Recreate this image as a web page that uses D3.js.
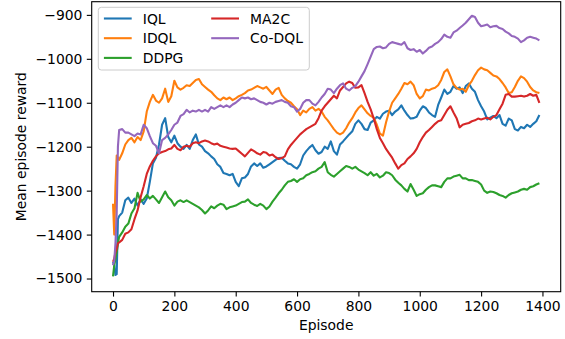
<!DOCTYPE html>
<html>
<head>
<meta charset="utf-8">
<script src="https://cdn.jsdelivr.net/npm/d3@7.9.0/dist/d3.min.js"></script>
<style>
  body { margin: 0; background: #fff; }
  svg { display: block; font-family: "DejaVu Sans", sans-serif; }
</style>
</head>
<body>
<svg id="chart" width="565" height="339"></svg>
<script>
// episode index of each sample (first few episodes read more finely)
const episodes = [0, 4, 8, 12, 16, 20].concat(d3.range(30, 1400, 10));

const iql = [-1462, -1470, -1492, -1490, -1365, -1358, -1350, -1322, -1316, -1328, -1318, -1334, -1320, -1330, -1318, -1280, -1238, -1225, -1195, -1150,
  -1135, -1178, -1190, -1175, -1192, -1200, -1205, -1196, -1205, -1185, -1172, -1195, -1200, -1210, -1215, -1222, -1228, -1240, -1246, -1260,
  -1262, -1265, -1262, -1280, -1290, -1272, -1270, -1262, -1245, -1238, -1244, -1238, -1248, -1245, -1240, -1235, -1230, -1226, -1225, -1232,
  -1238, -1240, -1246, -1250, -1240, -1220, -1210, -1202, -1196, -1208, -1216, -1212, -1200, -1205, -1188, -1210, -1218, -1195, -1188, -1180,
  -1172, -1165, -1148, -1140, -1148, -1160, -1162, -1145, -1140, -1132, -1136, -1125, -1120, -1118, -1128, -1120, -1115, -1106, -1118, -1128,
  -1136, -1135, -1132, -1118, -1108, -1112, -1122, -1128, -1132, -1105, -1088, -1070, -1080, -1075, -1062, -1068, -1065, -1078, -1062, -1056,
  -1068, -1075, -1094, -1108, -1120, -1138, -1134, -1130, -1135, -1128, -1148, -1152, -1136, -1140, -1160, -1163, -1155, -1158, -1150, -1155,
  -1148, -1142, -1128];

const idql = [-1330, -1400, -1290, -1220, -1225, -1230, -1215, -1195, -1185, -1180, -1190, -1178, -1185, -1165, -1120, -1098, -1082, -1095, -1100, -1090,
  -1068, -1098, -1085, -1050, -1065, -1070, -1066, -1060, -1062, -1055, -1048, -1046, -1058, -1064, -1070, -1075, -1083, -1090, -1094, -1088,
  -1092, -1088, -1094, -1090, -1085, -1082, -1078, -1072, -1070, -1066, -1062, -1065, -1068, -1064, -1072, -1080, -1070, -1066, -1082, -1090,
  -1096, -1100, -1108, -1115, -1128, -1118, -1122, -1114, -1110, -1118, -1114, -1120, -1132, -1140, -1150, -1160, -1168, -1172, -1168, -1158,
  -1145, -1135, -1122, -1112, -1106, -1115, -1124, -1130, -1134, -1150, -1170, -1175, -1145, -1120, -1100, -1090, -1080, -1068, -1055, -1058,
  -1052, -1060, -1080, -1090, -1085, -1070, -1072, -1068, -1066, -1060, -1048, -1030, -1024, -1040, -1058, -1066, -1070, -1068, -1075, -1060,
  -1050, -1037, -1026, -1020, -1024, -1026, -1032, -1038, -1040, -1046, -1055, -1065, -1078, -1076, -1064, -1050, -1040, -1044, -1052, -1064,
  -1072, -1076, -1078];

const ddpg = [-1495, -1470, -1455, -1440, -1420, -1405, -1395, -1382, -1375, -1352, -1340, -1305, -1325, -1320, -1310, -1318, -1312, -1320, -1328, -1315,
  -1302, -1315, -1322, -1334, -1325, -1322, -1326, -1322, -1326, -1330, -1334, -1338, -1344, -1352, -1345, -1336, -1340, -1334, -1330, -1332,
  -1342, -1338, -1336, -1334, -1330, -1326, -1325, -1320, -1328, -1332, -1335, -1330, -1334, -1342, -1336, -1325, -1316, -1306, -1298, -1288,
  -1280, -1278, -1274, -1280, -1274, -1272, -1265, -1262, -1258, -1256, -1250, -1246, -1235, -1258, -1264, -1268, -1262, -1256, -1250, -1244,
  -1246, -1250, -1246, -1252, -1256, -1260, -1265, -1258, -1266, -1262, -1270, -1266, -1258, -1260, -1265, -1275, -1282, -1288, -1296, -1302,
  -1285, -1298, -1312, -1308, -1306, -1298, -1292, -1288, -1288, -1290, -1292, -1280, -1272, -1272, -1268, -1266, -1264, -1272, -1272, -1276,
  -1276, -1278, -1280, -1286, -1300, -1305, -1302, -1303, -1306, -1310, -1312, -1316, -1310, -1306, -1304, -1302, -1298, -1296, -1298, -1292,
  -1290, -1286, -1283];

const ma2c = [-1462, -1455, -1440, -1432, -1420, -1418, -1412, -1398, -1395, -1388, -1365, -1345, -1315, -1290, -1262, -1245, -1232, -1222, -1215, -1212,
  -1210, -1206, -1204, -1196, -1205, -1208, -1200, -1198, -1200, -1192, -1190, -1192, -1188, -1186, -1188, -1192, -1195, -1193, -1198, -1200,
  -1202, -1204, -1205, -1204, -1210, -1216, -1222, -1214, -1206, -1210, -1215, -1218, -1212, -1214, -1220, -1218, -1224, -1228, -1226, -1222,
  -1206, -1196, -1188, -1180, -1172, -1166, -1160, -1156, -1152, -1148, -1135, -1118, -1108, -1100, -1092, -1084, -1090, -1072, -1064, -1056,
  -1052, -1055, -1066, -1065, -1060, -1078, -1098, -1115, -1136, -1160, -1180, -1192, -1205, -1215, -1225, -1238, -1250, -1242, -1238, -1228,
  -1222, -1215, -1205, -1190, -1178, -1168, -1162, -1155, -1148, -1142, -1140, -1128, -1116, -1108, -1122, -1135, -1156, -1150, -1148, -1146,
  -1142, -1140, -1136, -1138, -1136, -1134, -1138, -1132, -1128, -1115, -1102, -1082, -1080, -1086, -1086, -1085, -1084, -1086, -1084, -1080,
  -1084, -1082, -1100];

const codql = [-1470, -1460, -1420, -1350, -1200, -1162, -1160, -1168, -1168, -1172, -1176, -1170, -1172, -1150, -1158, -1176, -1192, -1198, -1215, -1185,
  -1180, -1172, -1162, -1150, -1145, -1130, -1126, -1116, -1122, -1118, -1120, -1116, -1120, -1116, -1120, -1110, -1114, -1110, -1106, -1110,
  -1106, -1110, -1104, -1100, -1094, -1088, -1090, -1088, -1092, -1090, -1094, -1098, -1100, -1104, -1100, -1102, -1098, -1096, -1094, -1098,
  -1100, -1108, -1110, -1120, -1114, -1100, -1094, -1094, -1102, -1106, -1098, -1088, -1080, -1068, -1070, -1078, -1068, -1060, -1056, -1068,
  -1072, -1066, -1062, -1052, -1040, -1028, -1012, -995, -978, -973, -972, -976, -974, -966, -962, -964, -966, -968, -962, -976,
  -980, -978, -984, -980, -988, -982, -975, -972, -966, -962, -955, -945, -950, -952, -940, -936, -930, -924, -918, -910,
  -902, -905, -918, -926, -924, -922, -928, -926, -925, -930, -932, -938, -942, -948, -950, -954, -962, -958, -952, -950,
  -952, -954, -958];

const seriesNames = ['IQL', 'IDQL', 'DDPG', 'MA2C', 'Co-DQL'];
const seriesValues = [iql, idql, ddpg, ma2c, codql];
const seriesColors = ['#1f77b4', '#ff7f0e', '#2ca02c', '#d62728', '#9467bd'];
const xTicks = [0, 200, 400, 600, 800, 1000, 1200, 1400];
const yTicks = [-1500, -1400, -1300, -1200, -1100, -1000, -900];

const svg = d3.select('#chart');
const plotLeft = 91.7, plotRight = 560.7, plotTop = 1.7, plotBottom = 291.7;
const fontSize = 13.9;

let x = d3.scaleLinear().domain([-69.5, 1459.5]).range([plotLeft, plotRight]);
let y = d3.scaleLinear().domain([-1530, -870]).range([plotBottom, plotTop]);

// lines
let line = d3.line()
  .x((d, i) => x(episodes[i]))
  .y((d) => y(d));

seriesValues.forEach((vals, i) => {
  svg.append('path')
    .attr('d', line(vals))
    .attr('fill', 'none')
    .attr('stroke', seriesColors[i])
    .attr('stroke-width', 2.1)
    .attr('stroke-linejoin', 'round');
});

// axes
let xAxis = svg.append('g')
  .attr('transform', `translate(0,${plotBottom})`)
  .call(d3.axisBottom(x).tickValues(xTicks).tickFormat(d3.format('d')).tickSize(4.9).tickPadding(4.4).tickSizeOuter(0));
let yAxis = svg.append('g')
  .attr('transform', `translate(${plotLeft},0)`)
  .call(d3.axisLeft(y).tickValues(yTicks).tickFormat(d3.format('d')).tickSize(4.9).tickPadding(4.4).tickSizeOuter(0));

[xAxis, yAxis].forEach((g) => {
  g.select('.domain').remove();
  g.selectAll('line').attr('stroke', '#000').attr('stroke-width', 1.1);
  g.selectAll('text').attr('font-size', fontSize).attr('font-family', '"DejaVu Sans"').attr('fill', '#000');
});

svg.append('rect')
  .attr('x', plotLeft).attr('y', plotTop)
  .attr('width', plotRight - plotLeft).attr('height', plotBottom - plotTop)
  .attr('fill', 'none').attr('stroke', '#000').attr('stroke-width', 1.1);

svg.append('text')
  .attr('x', (plotLeft + plotRight) / 2).attr('y', 330)
  .attr('text-anchor', 'middle')
  .attr('font-size', fontSize)
  .text('Episode');

svg.append('text')
  .attr('transform', `translate(26,${(plotTop + plotBottom) / 2}) rotate(-90)`)
  .attr('text-anchor', 'middle')
  .attr('font-size', fontSize)
  .text('Mean episode reward');

// legend, two columns like matplotlib ncol=2
let legend = svg.append('g');
legend.append('rect')
  .attr('x', 98.3).attr('y', 7.3)
  .attr('width', 211).attr('height', 62.7)
  .attr('rx', 3)
  .attr('fill', 'rgba(255,255,255,0.8)')
  .attr('stroke', '#cccccc').attr('stroke-width', 1);

let colX = [103.9, 211.2];
let rowY = [18.5, 38.2, 57.9];
seriesNames.forEach((name, i) => {
  let col = i < 3 ? 0 : 1;
  let row = i < 3 ? i : i - 3;
  legend.append('line')
    .attr('x1', colX[col]).attr('x2', colX[col] + 27.8)
    .attr('y1', rowY[row]).attr('y2', rowY[row])
    .attr('stroke', seriesColors[i]).attr('stroke-width', 2.1);
  legend.append('text')
    .attr('x', colX[col] + 27.8 + 11.1).attr('y', rowY[row] + 5)
    .attr('font-size', fontSize)
    .text(name);
});
</script>
</body>
</html>
